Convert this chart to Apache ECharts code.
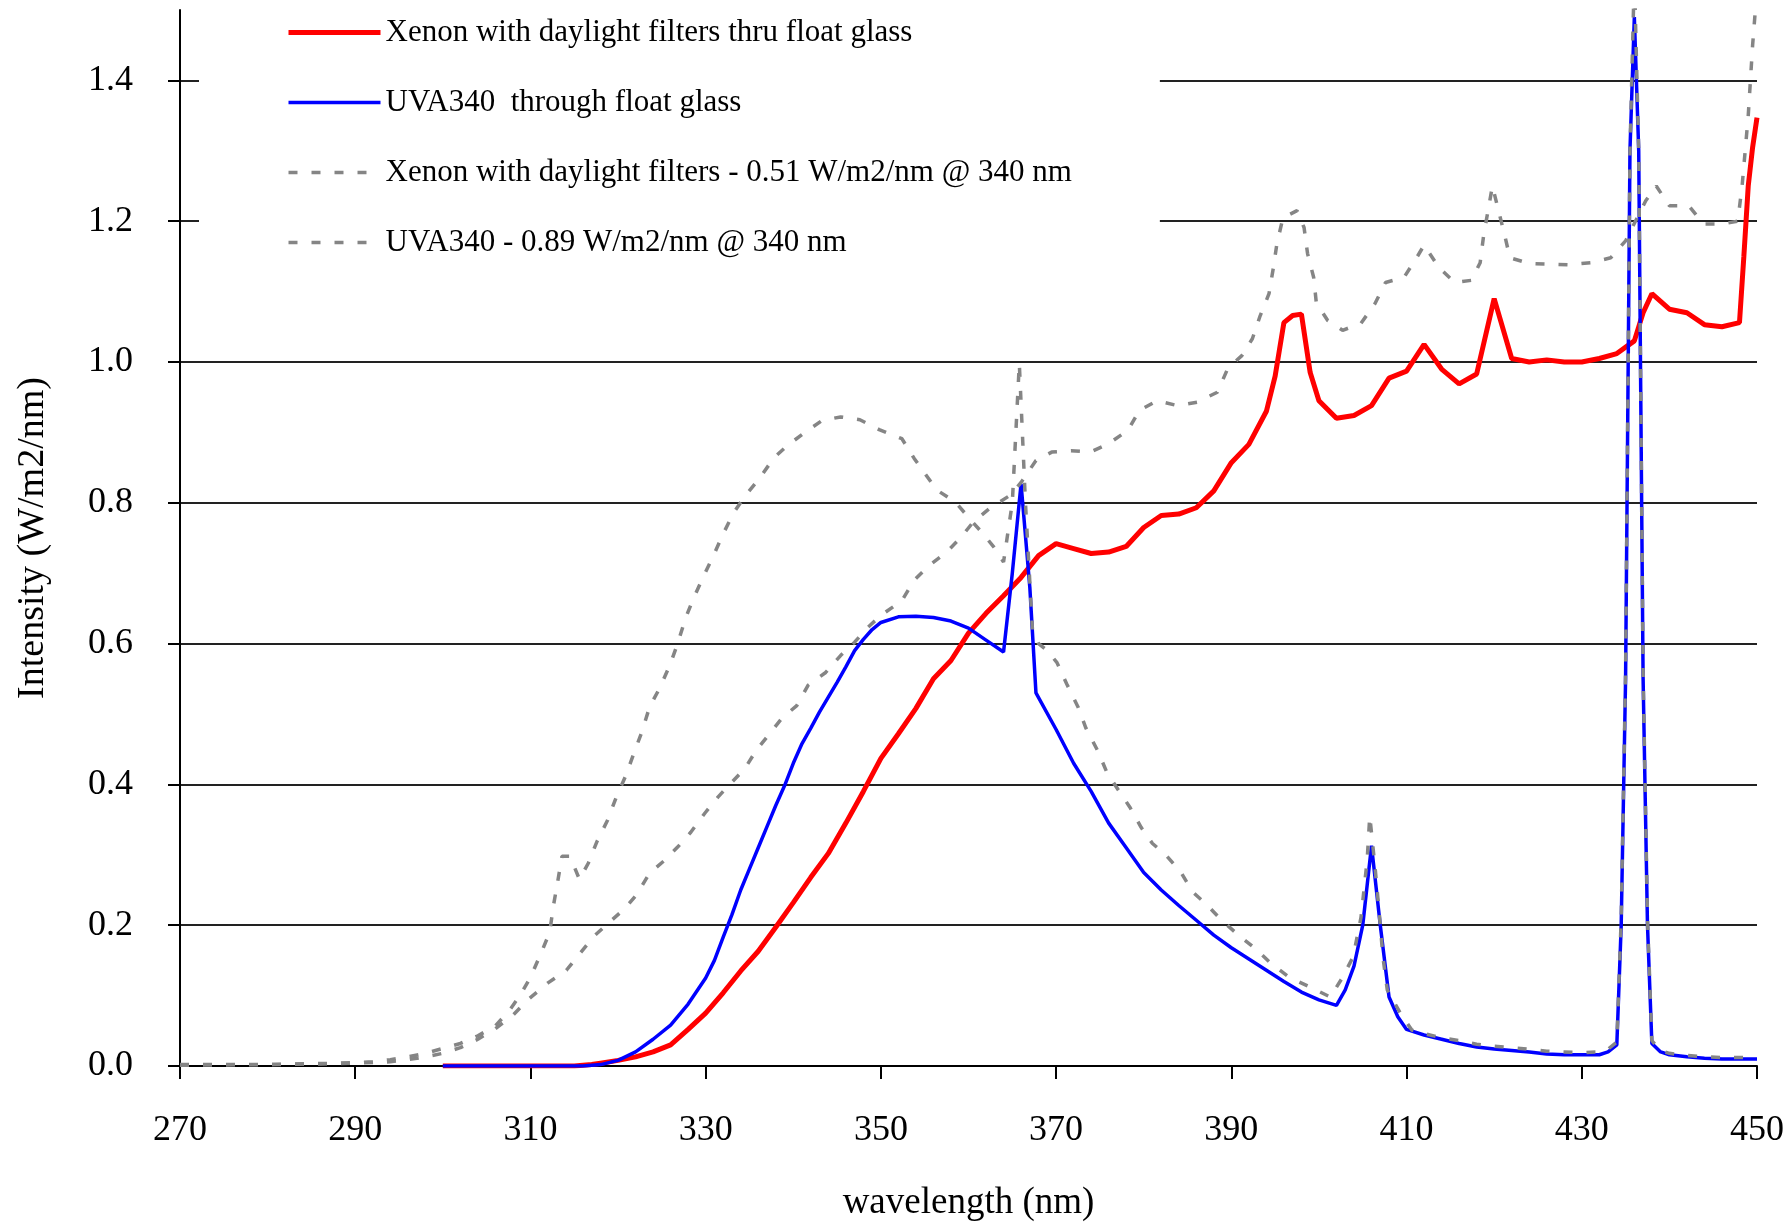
<!DOCTYPE html>
<html>
<head>
<meta charset="utf-8">
<title>Spectra</title>
<script src="https://cdn.jsdelivr.net/npm/echarts@6/dist/echarts.min.js"></script>
<style>
  html, body { margin: 0; padding: 0; background: #fff; }
  #chart { width: 1792px; height: 1225px; }
</style>
</head>
<body>
<div id="chart"></div>
<script>
// legend names
var seriesNames = [
    'Xenon with daylight filters thru float glass',
    'UVA340  through float glass',
    'Xenon with daylight filters - 0.51 W/m2/nm @ 340 nm',
    'UVA340 - 0.89 W/m2/nm @ 340 nm'
];

// axis ticks
var xTicks = [270, 290, 310, 330, 350, 370, 390, 410, 430, 450];
var yTicks = [0, 0.2, 0.4, 0.6, 0.8, 1.0, 1.2, 1.4];

// Xenon with daylight filters thru float glass (red)
var xenonGlassWl = [300, 305, 310, 315, 317, 318,
    320, 322, 324, 326, 328, 330, 332, 334, 336, 338, 340, 342, 344, 346, 348, 350,
    352, 354, 356, 358, 360, 362, 364, 366, 368, 370, 372, 374, 376, 378, 380, 382,
    384, 386, 388, 390, 392, 394, 395, 396, 397, 398, 399, 400,
    402, 404, 406, 408, 410, 412, 414, 416, 418, 420, 422, 424, 426, 428, 430, 432, 434,
    436, 437, 438, 440, 442, 444, 446, 448, 448.5, 449, 449.5, 450];
var xenonGlassVal = [0, 0, 0, 0, 0.002, 0.004,
    0.008, 0.013, 0.02, 0.03, 0.052, 0.075, 0.104, 0.135, 0.163, 0.197, 0.232, 0.268, 0.302, 0.345, 0.39, 0.437,
    0.472, 0.508, 0.55, 0.576, 0.615, 0.643, 0.668, 0.694, 0.725, 0.742, 0.735, 0.728, 0.73, 0.738, 0.765, 0.782,
    0.784, 0.793, 0.817, 0.857, 0.883, 0.93, 0.98, 1.056, 1.066, 1.068, 0.985, 0.945,
    0.92, 0.924, 0.938, 0.977, 0.987, 1.025, 0.99, 0.969, 0.983, 1.09, 1.005, 1.0, 1.003, 1.0, 1.0, 1.005, 1.012,
    1.03, 1.07, 1.097, 1.075, 1.07, 1.053, 1.05, 1.056, 1.15, 1.25, 1.305, 1.347];

// UVA340 through float glass (blue)
var uvaGlassWl = [300, 310, 316, 318, 320, 322, 324, 326, 328, 330,
    331, 332, 333, 334, 335, 336, 337, 338, 339, 340, 341, 342, 343, 344, 345, 346, 347, 348, 349, 350,
    352, 354, 356, 358, 360, 362, 364, 365, 366, 367, 367.7,
    370, 372, 374, 376, 378, 380, 382, 384, 386, 388, 390, 392, 394, 396, 398, 400, 402,
    403, 404, 405, 406, 407, 408, 409, 410,
    412, 414, 416, 418, 420, 422, 424, 426, 428, 430, 432, 433, 434,
    434.5, 435, 435.5, 436, 436.5, 437, 437.5, 438, 439, 440, 442, 444, 446, 448, 450];
var uvaGlassVal = [0, 0, 0, 0.002, 0.008, 0.02, 0.038, 0.058, 0.088, 0.125,
    0.15, 0.183, 0.215, 0.25, 0.28, 0.31, 0.34, 0.37, 0.398, 0.43, 0.458, 0.48, 0.503, 0.524, 0.545, 0.567, 0.59, 0.606, 0.62, 0.63,
    0.638, 0.639, 0.637, 0.632, 0.622, 0.605, 0.588, 0.7, 0.827, 0.68, 0.53,
    0.478, 0.43, 0.39, 0.345, 0.31, 0.275, 0.25, 0.228, 0.207, 0.186, 0.168, 0.152, 0.136, 0.12, 0.105, 0.094, 0.086,
    0.108, 0.142, 0.2, 0.313, 0.2, 0.098, 0.07, 0.052,
    0.044, 0.038, 0.032, 0.027, 0.024, 0.022, 0.02, 0.017, 0.016, 0.016, 0.016, 0.02, 0.03,
    0.2, 0.55, 1.3, 1.49, 1.3, 0.55, 0.2, 0.032, 0.02, 0.016, 0.013, 0.011, 0.01, 0.01, 0.01];

// Xenon with daylight filters, no glass (grey dashed, upper)
var xenonBareWl = [270, 280, 286, 290, 294, 296, 298, 300, 302, 304, 306, 308, 309.7, 312, 314.1, 315.8,
    317.3, 319, 320.8, 322.1, 323.6, 325.3, 326.8, 328.3, 329.9, 331.4, 332.9, 334.5, 335.8, 337.3, 338.7,
    340.4, 341.7, 343.7, 345.4, 347, 348.5, 350, 352.4, 353.8, 355.5, 357.5, 359, 360.5, 362.4, 364.8, 366,
    367.7, 369.5, 371.7, 373.9, 376, 378.2, 379.5, 381.5, 383.9, 386.1, 388.4, 389.6, 391.2, 392.4, 393.3,
    394.3, 394.8, 395.2, 395.9, 397.5, 398.3, 398.7, 399.4, 399.7, 401, 402.7, 404.8, 406.4, 407.6, 409.7,
    411.1, 412, 413.7, 415.5, 417.4, 418.4, 418.8, 419.3, 419.8, 420.5, 421.2, 421.8, 424, 428.4, 431, 433.3,
    435, 437.3, 438.5, 440, 442.2, 443.9, 446, 447.8, 448.3, 449, 449.5, 450];
var xenonBareVal = [0.002, 0.002, 0.003, 0.004, 0.006, 0.009, 0.013, 0.018, 0.026, 0.038, 0.053, 0.072, 0.094, 0.118, 0.136, 0.162,
    0.185, 0.204, 0.224, 0.243, 0.274, 0.292, 0.311, 0.332, 0.359, 0.382, 0.402, 0.423, 0.449, 0.472, 0.494,
    0.512, 0.541, 0.559, 0.583, 0.602, 0.623, 0.64, 0.661, 0.69, 0.711, 0.73, 0.749, 0.772, 0.792, 0.811, 0.829,
    0.86, 0.872, 0.874, 0.872, 0.884, 0.903, 0.931, 0.945, 0.938, 0.943, 0.957, 0.991, 1.009, 1.033, 1.066,
    1.097, 1.134, 1.168, 1.205, 1.215, 1.191, 1.154, 1.12, 1.084, 1.059, 1.045, 1.055, 1.083, 1.113, 1.12,
    1.147, 1.166, 1.134, 1.113, 1.116, 1.141, 1.18, 1.215, 1.25, 1.215, 1.18, 1.148, 1.14, 1.138, 1.141, 1.148,
    1.172, 1.229, 1.25, 1.222, 1.222, 1.196, 1.196, 1.2, 1.25, 1.35, 1.45, 1.53];

// UVA340, no glass (grey dashed, bell)
var uvaBareWl = [270, 280, 288, 292, 294, 296, 298, 300, 302, 304, 306, 307.6, 308.8, 310, 311.2, 312.2,
    312.6, 313.1, 313.6, 314.5, 315.6, 316.6, 317.6, 318.8, 319.8, 320.9, 321.8, 322.7, 323.6, 324.8, 325.9,
    326.8, 327.7, 328.6, 329.7, 331, 332, 333.2, 334.7, 336.1, 337.8, 339.3, 341.1, 343.3, 345.4, 347.6,
    349.8, 352.4, 353.8, 355, 356.4, 358.5, 360.3, 361.6, 362.9, 364, 365, 365.8, 366.5, 367.3, 368, 369,
    370.1, 371.2, 372.5, 373.4, 374.7, 375.8, 377.1, 378.4, 379.7, 381, 382.5, 384.2, 385.6, 387.2, 388.9,
    390.8, 392.9, 394.5, 396.6, 399, 401.3, 402.7, 403.9, 404.8, 405.5, 405.8, 406.4, 406.9, 407.3, 407.8,
    409.3, 410.6, 412, 414, 416, 418, 420, 422, 424, 426, 428, 430, 432, 433, 434,
    434.5, 435, 435.5, 436, 436.5, 437, 437.5, 438, 439, 440, 442, 444, 446, 448, 450];
var uvaBareVal = [0.001, 0.002, 0.004, 0.006, 0.009, 0.013, 0.018, 0.025, 0.032, 0.043, 0.057, 0.079, 0.1, 0.126, 0.16, 0.19,
    0.226, 0.261, 0.298, 0.298, 0.265, 0.288, 0.319, 0.349, 0.382, 0.413, 0.444, 0.474, 0.51, 0.538, 0.569,
    0.6, 0.636, 0.664, 0.694, 0.728, 0.756, 0.786, 0.813, 0.834, 0.864, 0.881, 0.898, 0.917, 0.922, 0.918,
    0.904, 0.891, 0.863, 0.842, 0.818, 0.801, 0.775, 0.757, 0.737, 0.716, 0.8, 0.998, 0.8, 0.62, 0.6, 0.59,
    0.573, 0.543, 0.51, 0.48, 0.449, 0.417, 0.392, 0.368, 0.339, 0.316, 0.3, 0.276, 0.247, 0.229, 0.207,
    0.186, 0.165, 0.146, 0.126, 0.112, 0.098, 0.126, 0.155, 0.211, 0.292, 0.355, 0.283, 0.215, 0.155, 0.108,
    0.075, 0.051, 0.046, 0.04, 0.036, 0.031, 0.028, 0.026, 0.024, 0.021, 0.02, 0.019, 0.02, 0.024, 0.034,
    0.21, 0.56, 1.3, 1.55, 1.3, 0.56, 0.21, 0.036, 0.022, 0.018, 0.015, 0.013, 0.012, 0.012, 0.012];

function pairs(wl, val) {
    var out = [];
    for (var i = 0; i < wl.length; i++) {
        out.push([wl[i], val[i]]);
    }
    return out;
}

var serif = 'Liberation Serif';
var red = '#ff0000', blue = '#0000ff', grey = '#858585';
var greyDash = [9, 14];

var option = {
    backgroundColor: '#fff',
    animation: false,
    textStyle: { fontFamily: serif, color: '#000' },
    grid: {
        left: 180,
        right: 35,
        top: 10,
        bottom: 159,
        outerBoundsMode: 'none'
    },
    legend: {
        orient: 'vertical',
        left: 199,
        top: 11,
        padding: [6, 88, 24, 87],
        backgroundColor: '#fff',
        itemWidth: 92,
        itemHeight: 14,
        itemGap: 39,
        selectedMode: false,
        itemStyle: { opacity: 0 },
        textStyle: { fontFamily: serif, fontSize: 31, lineHeight: 31, color: '#000' },
        data: [
            { name: seriesNames[0], lineStyle: { color: red, width: 5 } },
            { name: seriesNames[1], lineStyle: { color: blue, width: 3.5 } },
            { name: seriesNames[2], lineStyle: { color: grey, width: 3.5, type: greyDash } },
            { name: seriesNames[3], lineStyle: { color: grey, width: 3.5, type: greyDash } }
        ]
    },
    xAxis: {
        type: 'value',
        min: xTicks[0],
        max: xTicks[xTicks.length - 1],
        interval: 20,
        name: 'wavelength (nm)',
        nameLocation: 'middle',
        nameGap: 119,
        nameTextStyle: { fontFamily: serif, fontSize: 37, color: '#000' },
        axisLine: { lineStyle: { color: '#000', width: 2 } },
        axisTick: { length: 13, lineStyle: { color: '#000', width: 2 } },
        axisLabel: { fontFamily: serif, fontSize: 36, color: '#000', margin: 47 },
        splitLine: { show: false }
    },
    yAxis: {
        type: 'value',
        min: 0,
        max: 1.5,
        interval: 0.2,
        name: 'Intensity (W/m2/nm)',
        nameLocation: 'middle',
        nameGap: 128,
        nameTextStyle: { fontFamily: serif, fontSize: 38, color: '#000' },
        axisLine: { show: true, lineStyle: { color: '#000', width: 2 } },
        axisTick: { show: true, length: 12, customValues: yTicks, lineStyle: { color: '#000', width: 2 } },
        axisLabel: {
            fontFamily: serif, fontSize: 36, color: '#000', margin: 47,
            formatter: function (v) { return v > 1.45 ? '' : v.toFixed(1); }
        },
        splitLine: { show: true, showMinLine: false, lineStyle: { color: '#222', width: 2 } }
    },
    series: [{
        name: seriesNames[0],
        type: 'line',
        symbol: 'none',
        color: red,
        lineStyle: { color: red, width: 5 },
        emphasis: { disabled: true },
        data: pairs(xenonGlassWl, xenonGlassVal)
    }, {
        name: seriesNames[1],
        type: 'line',
        symbol: 'none',
        color: blue,
        lineStyle: { color: blue, width: 3.5 },
        emphasis: { disabled: true },
        data: pairs(uvaGlassWl, uvaGlassVal)
    }, {
        name: seriesNames[2],
        type: 'line',
        symbol: 'none',
        color: grey,
        lineStyle: { color: grey, width: 3.5, type: greyDash },
        emphasis: { disabled: true },
        data: pairs(xenonBareWl, xenonBareVal)
    }, {
        name: seriesNames[3],
        type: 'line',
        symbol: 'none',
        color: grey,
        lineStyle: { color: grey, width: 3.5, type: greyDash },
        emphasis: { disabled: true },
        data: pairs(uvaBareWl, uvaBareVal)
    }]
};

var chart = echarts.init(document.getElementById('chart'));
chart.setOption(option);
</script>
</body>
</html>
